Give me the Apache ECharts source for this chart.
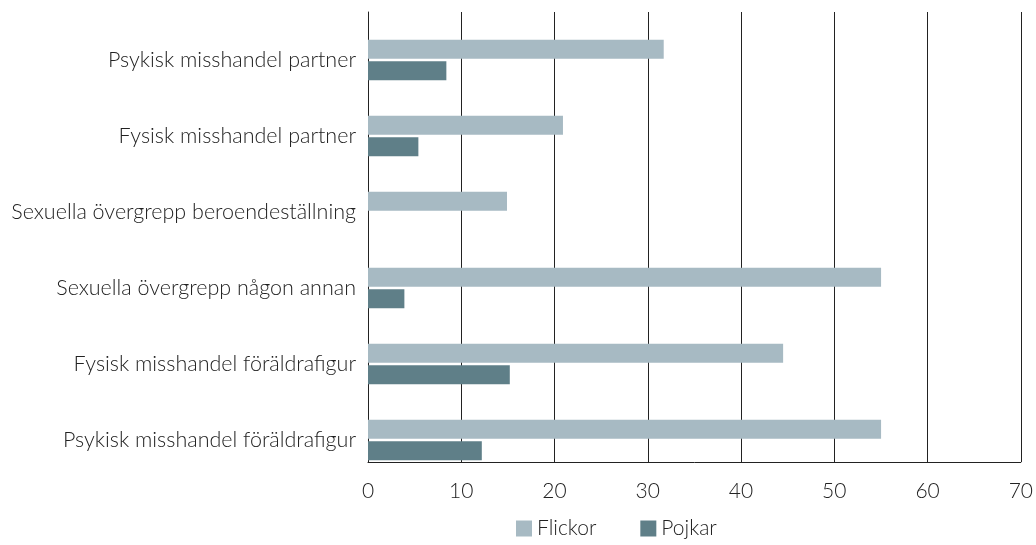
<!DOCTYPE html>
<html>
<head>
    <meta charset="UTF-8">
    <title>Övergrepp flickor/pojkar</title>
    <script src="https://cdn.jsdelivr.net/npm/echarts@6/dist/echarts.min.js"></script>
</head>
<body style="margin:0;background:#fff;">
    <div id="main" style="width:1036px;height:545px;"></div>
    <script type="text/javascript">
        // kategorier uppifrån och ned
        var categories = [
            'Psykisk misshandel partner',
            'Fysisk misshandel partner',
            'Sexuella övergrepp beroendeställning',
            'Sexuella övergrepp någon annan',
            'Fysisk misshandel föräldrafigur',
            'Psykisk misshandel föräldrafigur'
        ];
        var flickor = [31.7, 20.9, 14.9, 55.0, 44.5, 55.0];
        var pojkar = [8.4, 5.4, null, 3.9, 15.2, 12.2];
        var xTicks = [0, 10, 20, 30, 40, 50, 60, 70];

        var font = 'Lato, "Open Sans", sans-serif';
        var myChart = echarts.init(document.getElementById('main'));

        var option = {
            animation: false,
            textStyle: { fontFamily: font },
            legend: {
                bottom: 1,
                left: 511,
                itemWidth: 16,
                itemHeight: 16,
                itemGap: 44,
                icon: 'rect',
                textStyle: { fontSize: 21, color: '#222', fontWeight: 300, fontFamily: font },
                data: ['Flickor', 'Pojkar']
            },
            grid: [
                // ram med rutnät och x-axel
                { left: 368, right: 15, top: 12, bottom: 83 },
                // staplar och kategorinamn
                { left: 368, right: 15, top: 22, bottom: 67 }
            ],
            xAxis: [
                {
                    gridIndex: 0,
                    type: 'value',
                    min: xTicks[0],
                    max: xTicks[xTicks.length - 1],
                    interval: 10,
                    axisLine: { show: true, lineStyle: { color: '#222', width: 1 } },
                    axisTick: { show: false },
                    splitLine: { show: true, lineStyle: { color: '#222', width: 1 } },
                    axisLabel: { fontSize: 21, color: '#222', margin: 19, fontWeight: 300, fontFamily: font }
                },
                {
                    gridIndex: 1,
                    type: 'value',
                    min: xTicks[0],
                    max: xTicks[xTicks.length - 1],
                    show: false
                }
            ],
            yAxis: [
                {
                    gridIndex: 0,
                    type: 'category',
                    data: categories,
                    inverse: true,
                    axisLine: { show: true, lineStyle: { color: '#222', width: 1 } },
                    axisTick: { show: false },
                    axisLabel: { show: false }
                },
                {
                    gridIndex: 1,
                    type: 'category',
                    data: categories,
                    inverse: true,
                    axisLine: { show: false },
                    axisTick: { show: false },
                    axisLabel: { fontSize: 21.5, color: '#222', margin: 12, fontWeight: 300, fontFamily: font, padding: [0, 0, 6, 0] }
                }
            ],
            series: [
                {
                    name: 'Flickor',
                    type: 'bar',
                    xAxisIndex: 1,
                    yAxisIndex: 1,
                    data: flickor,
                    barWidth: 19,
                    barGap: '12%',
                    itemStyle: { color: '#a7bac3' }
                },
                {
                    name: 'Pojkar',
                    type: 'bar',
                    xAxisIndex: 1,
                    yAxisIndex: 1,
                    data: pojkar,
                    barWidth: 19,
                    barGap: '12%',
                    itemStyle: { color: '#5f7f88' }
                }
            ]
        };

        myChart.setOption(option);
    </script>
</body>
</html>
